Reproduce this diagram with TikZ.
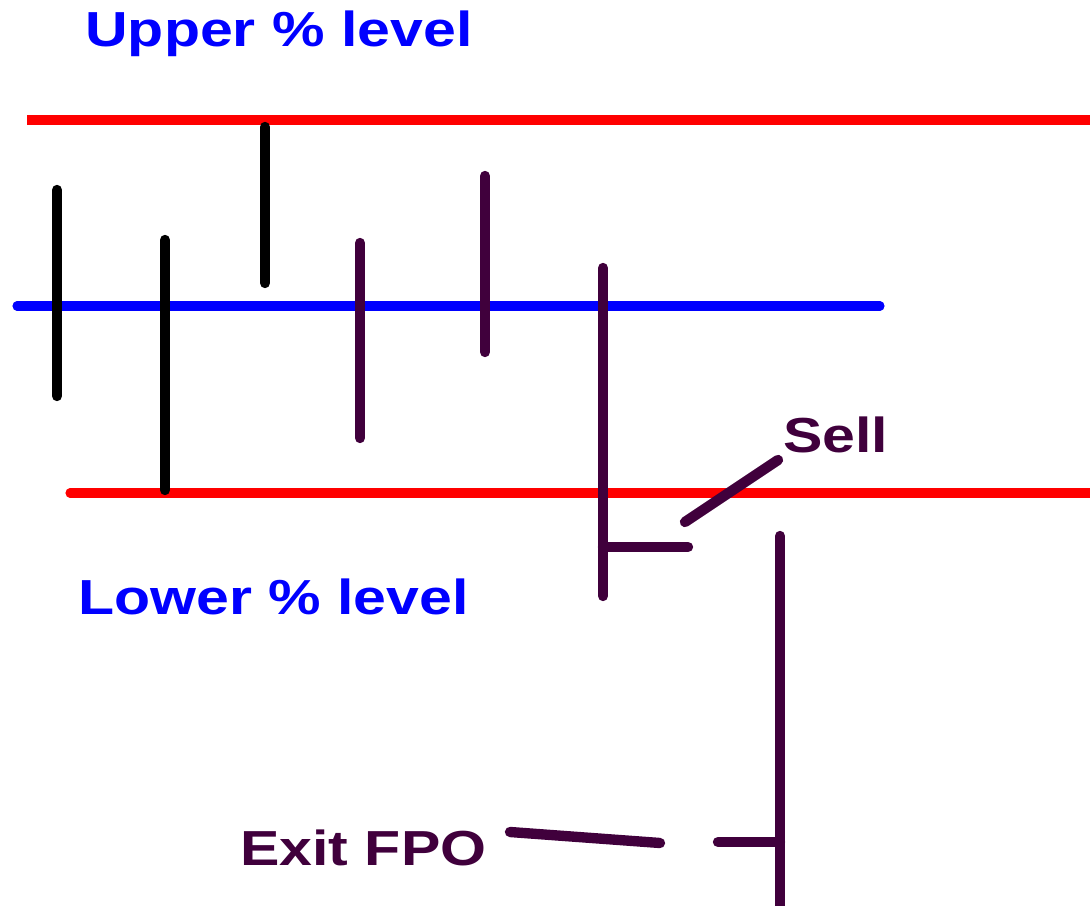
\documentclass[tikz,border=0pt]{standalone}
\usepackage{fontspec}
\newfontfamily\lblfont[FakeStretch=1.2]{Liberation Sans}
\definecolor{barpurple}{RGB}{64,0,60}
\tikzset{
    level/.style={line width=5.2pt},
    bar/.style={line width=5.9pt,line cap=round},
    lbl/.style={font=\lblfont\bfseries\fontsize{28}{32}\selectfont,anchor=base west,inner sep=0pt},
}
\begin{document}
\begin{tikzpicture}[x=0.02cm,y=-0.02cm]
            \useasboundingbox (0,0) rectangle (1090,906);

            \draw[level,red] (27,120) -- (1090,120);
            \draw[level,red,line cap=round] (70,493) -- (1090,493);
            \draw[level,blue,line cap=round] (17,306) -- (880,306);

            \foreach \x/\top/\bot in {57/190/396,165/240/490,265/127/283}
                \draw[bar,black] (\x,\top) -- (\x,\bot);
            \foreach \x/\top/\bot in {360/243/438,485/176/352,603/268/596,780/536/920}
                \draw[bar,barpurple] (\x,\top) -- (\x,\bot);

            \draw[bar,barpurple] (603,547) -- (688,547);
            \draw[bar,barpurple] (718,842) -- (780,842);

            \node[lbl,blue] (upper) at (85,47) {Upper \% level};
            \node[lbl,blue] (lower) at (78,614) {Lower \% level};
            \node[lbl,barpurple] (sell) at (783,452) {Sell};
            \node[lbl,barpurple] (exit) at (240,865) {Exit FPO};

            \coordinate (sellA) at (685,522);\coordinate (sellB) at (778,460);
            \draw[bar,barpurple] (sellA) -- (sellB);
            \coordinate (exitA) at (510,832);\coordinate (exitB) at (660,843);
            \draw[bar,barpurple] (exitA) -- (exitB);
        \end{tikzpicture}
\end{document}
